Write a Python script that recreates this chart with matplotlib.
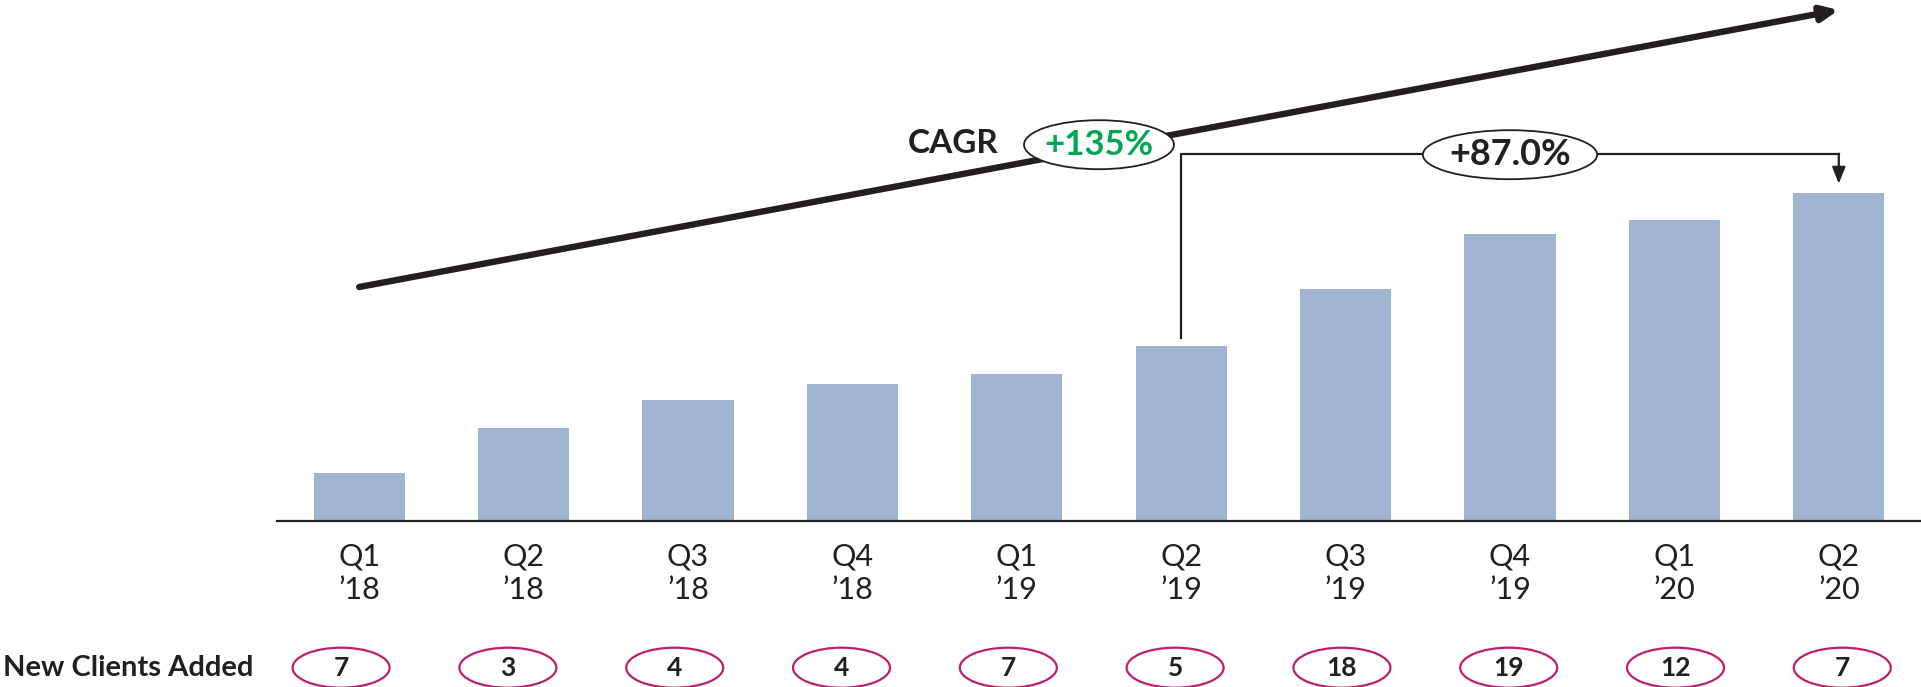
import matplotlib
matplotlib.use('Agg')
import matplotlib.pyplot as plt
from matplotlib.patches import Ellipse

plt.rcParams['font.family'] = ['Lato', 'DejaVu Sans']

quarters = ['Q1', 'Q2', 'Q3', 'Q4', 'Q1', 'Q2', 'Q3', 'Q4', 'Q1', 'Q2']
years = ['18', '18', '18', '18', '19', '19', '19', '19', '20', '20']
values = [48, 93, 121, 137, 147, 175, 232, 287, 301, 328]
new_clients = [7, 3, 4, 4, 7, 5, 18, 19, 12, 7]
cagr_label = '+135%'
growth_label = '+87.0%'

bar_color = '#A1B5D3'
dark = '#231F20'
green = '#00A651'
magenta = '#BE1E6E'

fig = plt.figure(figsize=(19.21, 6.87), dpi=100)
# axes spans from the baseline up to the top of the figure, 1 y unit ~ 1 px
ax = fig.add_axes([277 / 1921, (687 - 520.7) / 687, 1644 / 1921, 520.7 / 687])
ax.set_xlim(-0.5, 9.5)
ax.set_ylim(0, 520.7)

x = list(range(len(values)))
ax.bar(x, values, width=0.554, color=bar_color, zorder=2)

for s in ['top', 'right', 'left']:
    ax.spines[s].set_visible(False)
ax.spines['bottom'].set_color(dark)
ax.spines['bottom'].set_linewidth(1.6)
ax.set_yticks([])
ax.set_xticks(x)
ax.set_xticklabels([f'{q}\n\u2019{y}' for q, y in zip(quarters, years)],
                   fontsize=22, color=dark, linespacing=1.2)
ax.tick_params(axis='x', length=0, pad=16)

# CAGR arrow
ax.annotate('', xy=(9.0, 510.7), xytext=(0, 233.7),
            arrowprops=dict(arrowstyle='-|>,head_length=1.0,head_width=0.45',
                            color=dark, lw=4.6, shrinkA=0, shrinkB=0),
            annotation_clip=False, zorder=3)
ax.add_patch(Ellipse((4.5, 376), 0.912, 49, facecolor='white', edgecolor=dark,
                     lw=1.3, zorder=4, clip_on=False))
ax.text(4.5, 376, cagr_label, ha='center', va='center', fontsize=25,
        fontweight='bold', color=green, zorder=5)
ax.text(3.89, 377, 'CAGR', ha='right', va='center', fontsize=24,
        fontweight='bold', color=dark, zorder=5)

# Q2'19 -> Q2'20 bracket
level = 367
ax.plot([5, 5, 9], [values[5] + 8, level, level], color=dark, lw=1.6,
        zorder=3, clip_on=False)
ax.annotate('', xy=(9, values[9] + 9), xytext=(9, level),
            arrowprops=dict(arrowstyle='-|>,head_length=1.0,head_width=0.4',
                            color=dark, lw=1.6, shrinkA=0, shrinkB=0),
            annotation_clip=False, zorder=3)
ax.add_patch(Ellipse((7, 366), 1.06, 49, facecolor='white', edgecolor=dark,
                     lw=1.3, zorder=4, clip_on=False))
ax.text(7, 366, growth_label, ha='center', va='center', fontsize=26,
        fontweight='bold', color=dark, zorder=5)

# new clients row
row_y = -147
ax.text(-0.5 - 274 / 164.4, row_y, 'New Clients Added', ha='left', va='center',
        fontsize=21, fontweight='bold', color=dark, clip_on=False)
for i, n in enumerate(new_clients):
    cx = -0.11 + i * 1.0146
    ax.add_patch(Ellipse((cx, row_y), 0.59, 40, facecolor='white',
                         edgecolor=magenta, lw=1.6, clip_on=False))
    ax.text(cx, row_y, str(n), ha='center', va='center', fontsize=19,
            fontweight='bold', color=dark, clip_on=False)

fig.savefig('out.png', dpi=100)
